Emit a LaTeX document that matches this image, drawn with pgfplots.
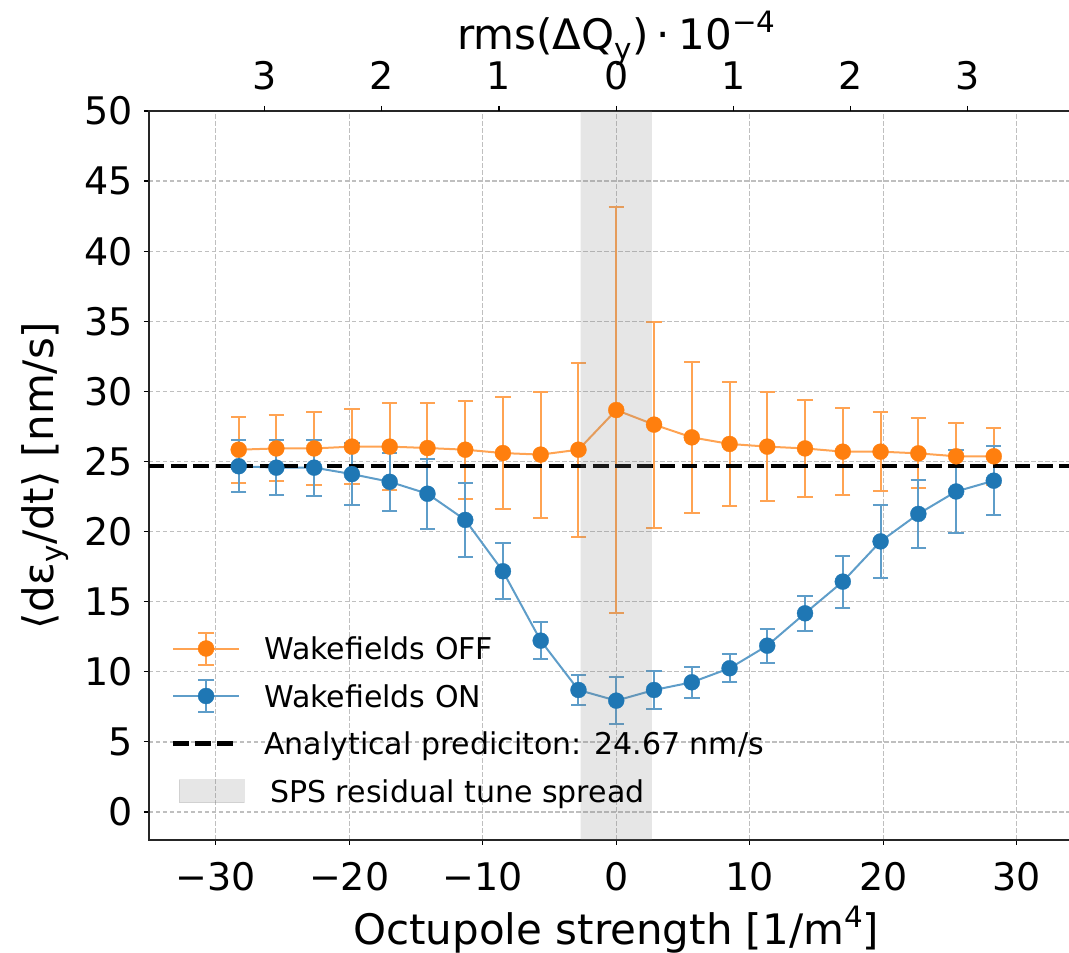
\documentclass[border=0pt]{standalone}
\usepackage{fontspec}
\setmainfont{DejaVu Sans}
\usepackage{graphicx}
\usepackage{pgfplots}
\usepackage{pgfplotstable}
\pgfplotsset{compat=1.18}
\definecolor{cOFF}{HTML}{FF7F0E}
\definecolor{cON}{HTML}{1F77B4}
\colorlet{lOFF}{cOFF!72!white}
\colorlet{lON}{cON!72!white}
\newcommand\tickfont{\fontsize{38}{44}\selectfont}
\newcommand\labfont{\fontsize{42}{48}\selectfont}
\newcommand\legfont{\fontsize{30}{34}\selectfont}
\newcommand\sups[1]{\raisebox{0.42em}{\scalebox{0.7}{#1}}}
\newcommand\subs[1]{\raisebox{-0.22em}{\scalebox{0.7}{#1}}}

\pgfplotstableread{
x y e
-28.28 25.84 2.35
-25.46 25.93 2.35
-22.63 25.93 2.6
-19.80 26.06 2.7
-16.97 26.06 3.1
-14.14 25.96 3.2
-11.31 25.84 3.5
-8.49 25.60 4.0
-5.66 25.49 4.5
-2.83 25.84 6.2
0.00 28.67 14.5
2.83 27.63 7.35
5.66 26.72 5.37
8.49 26.25 4.4
11.31 26.06 3.9
14.14 25.93 3.43
16.97 25.70 3.1
19.80 25.70 2.8
22.63 25.58 2.5
25.46 25.37 2.38
28.28 25.37 2.05
}\offdata

\pgfplotstableread{
x y e
-28.28 24.66 1.87
-25.46 24.56 1.95
-22.63 24.56 2.0
-19.80 24.10 2.2
-16.97 23.55 2.05
-14.14 22.70 2.5
-11.31 20.83 2.65
-8.49 17.17 2.0
-5.66 12.22 1.3
-2.83 8.70 1.05
0.00 7.94 1.7
2.83 8.70 1.35
5.66 9.25 1.1
8.49 10.25 1.0
11.31 11.86 1.2
14.14 14.17 1.25
16.97 16.43 1.85
19.80 19.30 2.6
22.63 21.26 2.4
25.46 22.86 2.95
28.28 23.63 2.45
}\ondata

\begin{document}
\begin{tikzpicture}
\begin{axis}[
  scale only axis, width=934.5pt, height=729pt,
  xmin=-35, xmax=35, ymin=-2, ymax=50,
  xtick={-30,-20,...,30}, xticklabels={−30,−20,−10,0,10,20,30},
  ytick={0,5,...,50}, yticklabels={0,5,10,15,20,25,30,35,40,45,50},
  xtick pos=left, ytick pos=left, tick align=outside,
  major tick length=5pt,
  tick style={black, line width=1.2pt},
  tick label style={font=\tickfont, inner sep=0pt},
  xticklabel style={yshift=-17pt},
  yticklabel style={xshift=-11pt},
  axis line style={line width=1.6pt, black!85},
  grid=major,
  major grid style={line width=1.3pt, color=black!25, dash pattern=on 4.5pt off 2.5pt},
  xlabel={Octupole strength [1/m\sups{4}]},
  xlabel style={font=\labfont, at={(axis description cs:0.5,-0.144)}, anchor=base},
  ylabel={⟨d\kern0.03emε\subs{y}/dt⟩ [nm/s]},
  ylabel style={font=\labfont, at={(axis description cs:-0.1027,0.5)}, anchor=base, rotate=0},
  legend style={at={(axis description cs:0.02354,0.286)}, anchor=north west,
    draw=none, fill=none, inner sep=0pt, outer sep=0pt, font=\legfont,
    row sep=13.5pt, column sep=20pt,
    nodes={inner sep=0pt, text height=28pt, text depth=6pt}},
  legend cell align=left,
]
\addlegendimage{legend image code/.code={
  \draw[lOFF, line width=2pt] (0pt,0pt) -- (66pt,0pt);
  \draw[lOFF, line width=2pt] (33pt,-16pt) -- (33pt,16pt);
  \draw[lOFF, line width=2pt] (25.3pt,-16pt) -- (40.7pt,-16pt);
  \draw[lOFF, line width=2pt] (25.3pt,16pt) -- (40.7pt,16pt);
  \fill[cOFF] (33pt,0pt) circle (8pt);}}
\addlegendentry{Wakefields OFF}
\addlegendimage{legend image code/.code={
  \draw[lON, line width=2pt] (0pt,0pt) -- (66pt,0pt);
  \draw[lON, line width=2pt] (33pt,-16pt) -- (33pt,16pt);
  \draw[lON, line width=2pt] (25.3pt,-16pt) -- (40.7pt,-16pt);
  \draw[lON, line width=2pt] (25.3pt,16pt) -- (40.7pt,16pt);
  \fill[cON] (33pt,0pt) circle (8pt);}}
\addlegendentry{Wakefields ON}
\addlegendimage{legend image code/.code={
  \draw[black, line width=4.2pt, dash pattern=on 15.5pt off 6.7pt] (0pt,0pt) -- (66pt,0pt);}}
\addlegendentry{Analytical prediciton: 24.67 nm/s}
\addlegendimage{legend image code/.code={
  \fill[gray, opacity=0.2] (6pt,-11.5pt) rectangle (71pt,11.5pt);}}
\addlegendentry{\hspace{6pt}SPS residual tune spread}

\addplot[forget plot, lOFF, line width=2pt, mark=*, mark size=8pt,
  mark options={draw=cOFF, fill=cOFF, line width=0.3pt},
  error bars/.cd, y dir=both, y explicit,
  error bar style={lOFF, line width=2pt},
  error mark options={rotate=90, lOFF, mark size=7.7pt, line width=2pt}]
  table[x=x, y=y, y error=e] {\offdata};
\addplot[forget plot, lON, line width=2pt, mark=*, mark size=8pt,
  mark options={draw=cON, fill=cON, line width=0.3pt},
  error bars/.cd, y dir=both, y explicit,
  error bar style={lON, line width=2pt},
  error mark options={rotate=90, lON, mark size=7.7pt, line width=2pt}]
  table[x=x, y=y, y error=e] {\ondata};
\addplot[forget plot, black, line width=4.2pt, dash pattern=on 15.5pt off 6.7pt]
  coordinates {(-35,24.67) (35,24.67)};
\addplot[forget plot, draw=none, fill=gray, fill opacity=0.2]
  coordinates {(-2.67,-2) (-2.67,50) (2.67,50) (2.67,-2) (-2.67,-2)};
\end{axis}

\begin{axis}[
  scale only axis, width=934.5pt, height=729pt,
  xmin=-35, xmax=35, ymin=-2, ymax=50,
  hide y axis, axis line style={draw=none},
  xtick={-26.34,-17.56,-8.78,0,8.78,17.56,26.34},
  xticklabels={3,2,1,0,1,2,3},
  xtick pos=right, xticklabel pos=right, tick align=outside,
  major tick length=5pt,
  tick style={black, line width=1.2pt},
  tick label style={font=\tickfont, inner sep=0pt},
  xticklabel style={yshift=16pt},
  xlabel={rms(ΔQ\subs{y})\hspace{0.2em}⋅\hspace{0.2em}10\sups{−4}},
  xlabel style={font=\labfont, at={(axis description cs:0.5,1.0837)}, anchor=base},
]
\addplot[draw=none, forget plot] coordinates {(0,0)};
\end{axis}
\pgfresetboundingbox
\useasboundingbox (-149pt,-113pt) rectangle (920pt,840pt);
\end{tikzpicture}
\end{document}
